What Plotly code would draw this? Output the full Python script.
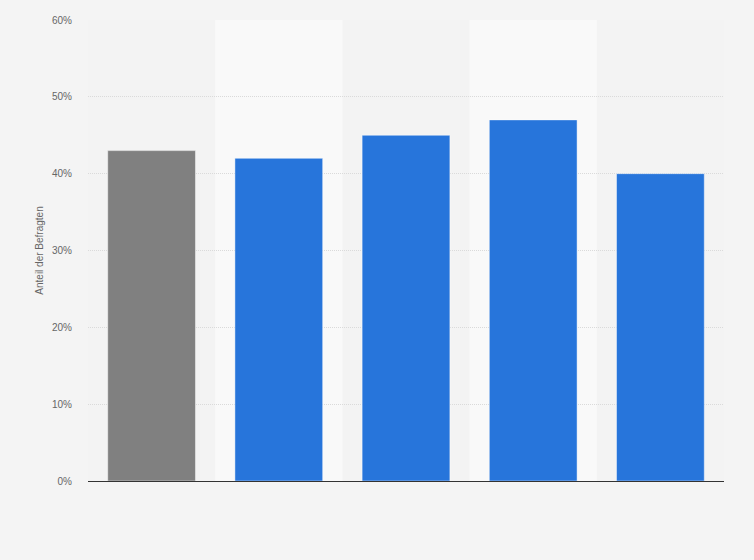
import plotly.graph_objects as go

# share of respondents per group, in percent
categories = ["Gesamt", "Gruppe 1", "Gruppe 2", "Gruppe 3", "Gruppe 4"]
values = [43, 42, 45, 47, 40]
colors = ["#808080", "#2775db", "#2775db", "#2775db", "#2775db"]
y_ticks = [0, 10, 20, 30, 40, 50, 60]
y_labels = ["0%", "10%", "20%", "30%", "40%", "50%", "60%"]

fig = go.Figure()
fig.add_trace(go.Bar(
    x=categories,
    y=values,
    marker=dict(color=colors, line=dict(color="rgba(255,255,255,0.45)", width=1)),
    hoverinfo="x+y",
))

# lighter background bands behind every second column
shapes = []
for i in range(1, len(categories), 2):
    shapes.append(dict(
        type="rect", xref="x", yref="paper",
        x0=i - 0.5, x1=i + 0.5, y0=0, y1=1,
        fillcolor="#f9f9f9", line=dict(width=0), layer="below",
    ))

fig.update_layout(
    width=754, height=560,
    margin=dict(l=88, r=30, t=20, b=79),
    paper_bgcolor="#f4f4f4",
    plot_bgcolor="#f3f3f3",
    bargap=0.31,
    shapes=shapes,
    showlegend=False,
    font=dict(family="Liberation Sans, Arial, sans-serif", color="#666666"),
)
fig.update_xaxes(
    showticklabels=False, showgrid=False, ticks="",
    showline=True, linecolor="#333333", linewidth=1,
    range=[-0.5, len(categories) - 0.5],
)
fig.update_yaxes(
    range=[0, 60], tickvals=y_ticks, ticktext=y_labels,
    tickfont=dict(size=10, color="#666666"),
    showgrid=True, gridcolor="#dadada", griddash="1px,1px", gridwidth=1,
    zeroline=False, ticks="", ticklabelstandoff=15,
    title=dict(text="Anteil der Befragten", font=dict(size=10, color="#666666"), standoff=6),
)

fig.write_html(
    "out.html",
    config={"displayModeBar": False},
    post_script="document.body.style.margin='0';document.body.style.overflow='hidden';",
)
